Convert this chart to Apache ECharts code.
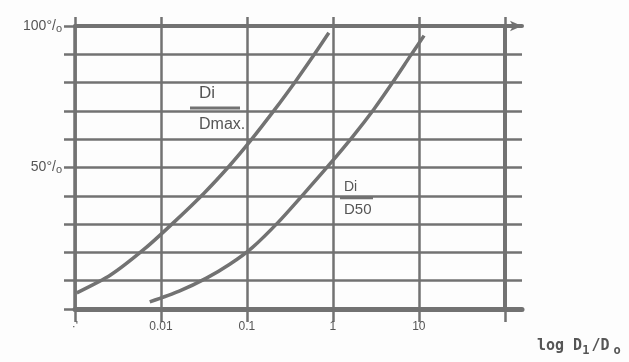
<!DOCTYPE html>
<html>
<head>
<meta charset="utf-8">
<script src="https://cdn.jsdelivr.net/npm/echarts@6/dist/echarts.min.js"></script>
<style>
html,body{margin:0;padding:0;background:#fdfdfd;}
#c{width:629px;height:362px;}
</style>
</head>
<body>
<div id="c"></div>
<script>
// X axis decades (log scale) and their labels
const xTicks = [0.001, 0.01, 0.1, 1, 10, 100];
const xTickLabels = ["\u00b7'", "0.01", "0.1", "1", "10", ""];
// Y axis labelled values
const yLabelled = [100, 50];
// Curve Di/Dmax
const dmaxX = [0.00105, 0.00259, 0.00653, 0.0142, 0.0321, 0.0631, 0.1084, 0.2135, 0.367, 0.582, 0.897];
const dmaxY = [5.7, 12.0, 21.4, 30.7, 41.1, 50.7, 59.2, 70.7, 80.4, 89.1, 97.6];
// Curve Di/D50
const d50X = [0.00741, 0.0163, 0.0338, 0.0631, 0.1145, 0.232, 0.456, 0.897, 1.71, 3.0, 4.99, 8.07, 11.5];
const d50Y = [2.5, 6.3, 10.9, 15.8, 21.6, 30.7, 40.6, 50.8, 61.0, 70.6, 80.2, 89.7, 96.6];

const LINE = '#727272';
const TEXT = '#555555';

function zip(xs, ys) { return xs.map((x, i) => [x, ys[i]]); }
function decadeIndex(v) {
  const e = Math.log10(v);
  const r = Math.round(e);
  if (Math.abs(e - r) > 1e-6) return -1;
  return xTicks.findIndex(t => Math.abs(Math.log10(t) - r) < 1e-6);
}

const chart = echarts.init(document.getElementById('c'), null, {renderer: 'canvas'});
const xMax = Math.pow(10, 2.2);

const option = {
  animation: false,
  backgroundColor: '#fdfdfd',
  grid: {left: 75, right: 107, top: 26, bottom: 53, containLabel: false},
  xAxis: [
    {
      type: 'log', logBase: 10, min: 0.001, max: xMax, position: 'bottom',
      axisLine: {show: true, lineStyle: {color: LINE, width: 5}},
      axisTick: {show: true, inside: false, length: 13, lineStyle: {color: LINE, width: 2.5}, customValues: xTicks},
      axisLabel: {
        show: true, margin: 12, color: TEXT, fontSize: 12, fontFamily: 'Liberation Sans Narrow, Liberation Sans, sans-serif',
        customValues: xTicks,
        formatter: function (v) { const i = decadeIndex(v); return i >= 0 ? xTickLabels[i] : ''; }
      },
      splitLine: {show: true, showMaxLine: false, lineStyle: {color: LINE, width: 2.5}},
      minorTick: {show: false}
    },
    {
      type: 'log', logBase: 10, min: 0.001, max: xMax, position: 'top',
      axisLine: {show: true, symbol: ['none', 'arrow'], symbolSize: [8, 12], lineStyle: {color: LINE, width: 4}},
      axisTick: {show: true, inside: false, length: 9, lineStyle: {color: LINE, width: 2.5}, customValues: xTicks},
      axisLabel: {show: false},
      splitLine: {show: false}
    }
  ],
  yAxis: {
    type: 'value', min: 0, max: 100, interval: 10,
    axisLine: {show: true, lineStyle: {color: LINE, width: 3.5}},
    axisTick: {show: true, inside: false, length: 11, lineStyle: {color: LINE, width: 2.5}},
    axisLabel: {
      show: true, margin: 13, color: TEXT, fontFamily: 'Liberation Sans, sans-serif',
      formatter: function (v) {
        return yLabelled.indexOf(v) >= 0 ? '{n|' + v + '\u00b0/}{s|o}' : '';
      },
      rich: {
        n: {fontSize: 14, color: TEXT, fontFamily: 'Liberation Sans Narrow, Liberation Sans, sans-serif'},
        s: {fontSize: 11, color: TEXT, padding: [5, 0, 0, 0], fontFamily: 'Liberation Sans, sans-serif'}
      }
    },
    splitLine: {show: true, lineStyle: {color: LINE, width: 2.5}}
  },
  series: [
    {
      name: 'Di/Dmax', type: 'line', xAxisIndex: 0, smooth: 0.25, symbol: 'none',
      lineStyle: {color: LINE, width: 3.5}, data: zip(dmaxX, dmaxY),
      markLine: {
        silent: true, symbol: 'none', label: {show: false},
        lineStyle: {color: LINE, width: 4, type: 'solid'},
        data: [{xAxis: xTicks[xTicks.length - 1]}]
      }
    },
    {
      name: 'Di/D50', type: 'line', xAxisIndex: 0, smooth: 0.25, symbol: 'none',
      lineStyle: {color: LINE, width: 3.5}, data: zip(d50X, d50Y)
    }
  ],
  graphic: [
    {type: 'text', left: 199, top: 85, style: {text: 'Di', fontSize: 17, fill: TEXT, fontFamily: 'Liberation Sans, sans-serif'}},
    {type: 'line', shape: {x1: 190, y1: 108, x2: 240, y2: 108}, style: {stroke: LINE, lineWidth: 3}},
    {type: 'text', left: 199, top: 117, style: {text: 'Dmax.', fontSize: 16, fill: TEXT, fontFamily: 'Liberation Sans, sans-serif'}},
    {type: 'text', left: 344, top: 180, style: {text: 'Di', fontSize: 14, fill: TEXT, fontFamily: 'Liberation Sans, sans-serif'}},
    {type: 'line', shape: {x1: 340, y1: 198, x2: 373, y2: 198}, style: {stroke: LINE, lineWidth: 2.5}},
    {type: 'text', left: 344, top: 202, style: {text: 'D50', fontSize: 15, fill: TEXT, fontFamily: 'Liberation Sans, sans-serif'}},
    {type: 'text', left: 537, top: 339, style: {
      text: '{a|log D}{s|1}{b|/D}{t|o}',
      rich: {
        a: {fontSize: 15, fontWeight: 'bold', fill: TEXT, fontFamily: 'DejaVu Sans Mono, monospace'},
        b: {fontSize: 15, fontWeight: 'bold', fill: TEXT, fontFamily: 'DejaVu Sans Mono, monospace', padding: [0, 0, 0, 2]},
        s: {fontSize: 12, fontWeight: 'bold', fill: TEXT, fontFamily: 'DejaVu Sans Mono, monospace', padding: [9, 0, 0, 0]},
        t: {fontSize: 12, fontWeight: 'bold', fill: TEXT, fontFamily: 'DejaVu Sans Mono, monospace', padding: [9, 0, 0, 4]}
      }
    }}
  ]
};
chart.setOption(option);
</script>
</body>
</html>
